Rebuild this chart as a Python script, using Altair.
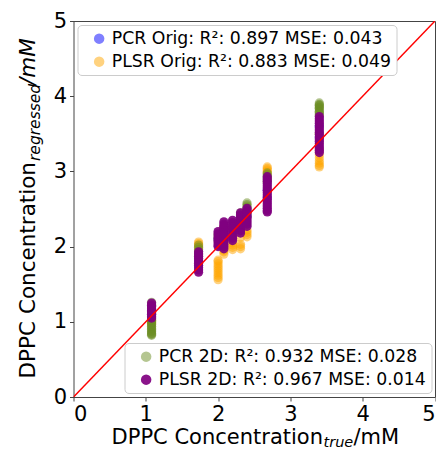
import altair as alt
import pandas as pd

# true concentrations (x) of the stacked columns
CONC = [1.08, 1.73, 2.0, 2.08, 2.2, 2.31, 2.4, 2.68, 3.4]

# regressed values per column, one list per series
PCR_ORIG = [[1.15, 1.10], [1.80, 1.75], [2.10], [2.15], [2.25], [2.30], [2.40],
            [2.75, 2.65], [3.60, 3.45]]
PLSR_ORIG = [[1.02, 1.00, 0.98],
             [2.06, 2.04, 2.02, 2.00, 1.97],
             [1.82, 1.80, 1.77, 1.74, 1.71, 1.68, 1.65, 1.62, 1.59, 1.56],
             [2.26, 2.24, 1.95, 1.93, 1.90],
             [2.05, 2.02, 1.99, 1.96],
             [2.12, 2.03, 2.00, 1.97],
             [2.22, 2.19, 2.16, 2.13],
             [3.06, 3.04, 3.02, 3.00, 2.98],
             [3.50, 3.30, 3.26, 3.22, 3.18, 3.14, 3.11, 3.08, 3.06]]
PCR_2D = [[1.26, 1.23, 1.20, 1.17, 1.14, 1.11, 1.08, 1.05, 1.02, 0.99, 0.96,
           0.93, 0.90, 0.87, 0.84, 0.82, 1.00, 0.97, 0.94, 0.91, 0.88, 0.85,
           0.83, 1.03],
          [2.02, 1.99, 1.96, 1.93, 1.90, 1.87, 1.84],
          [2.16, 2.12, 2.08],
          [2.26, 2.22, 2.18],
          [2.30, 2.26, 2.22],
          [2.45, 2.42, 2.38, 2.34],
          [2.58, 2.56, 2.54, 2.52, 2.50, 2.47, 2.44, 2.40],
          [2.98, 2.96, 2.94, 2.92, 2.89, 2.86],
          [3.91, 3.89, 3.87, 3.85, 3.83, 3.80, 3.78, 3.76, 3.74, 3.88, 3.84,
           3.79, 3.50]]
PLSR_2D = [[1.25, 1.22, 1.20, 1.17, 1.15, 1.12, 1.10, 1.07, 1.05],
           [1.93, 1.90, 1.87, 1.84, 1.81, 1.78, 1.75, 1.72, 1.69, 1.66],
           [2.20, 2.17, 2.14, 2.11, 2.08, 2.05, 2.02, 2.00],
           [2.33, 2.30, 2.27, 2.24, 2.21, 2.18, 2.15, 2.12, 2.09, 2.06, 2.03,
            2.00, 1.97],
           [2.35, 2.32, 2.29, 2.26, 2.23, 2.20, 2.17, 2.14, 2.11, 2.08],
           [2.45, 2.42, 2.39, 2.36, 2.33, 2.30, 2.27, 2.24, 2.21, 2.18],
           [2.51, 2.48, 2.45, 2.42, 2.39, 2.36, 2.33, 2.30, 2.27],
           [2.93, 2.90, 2.87, 2.84, 2.81, 2.78, 2.75, 2.72, 2.69, 2.66, 2.63,
            2.60, 2.57, 2.54, 2.51, 2.48, 2.46],
           [3.73, 3.70, 3.67, 3.64, 3.61, 3.58, 3.55, 3.52, 3.49, 3.46, 3.43,
            3.40, 3.37, 3.34, 3.31, 3.28, 3.25]]

LABELS = ["PCR Orig: R²: 0.897 MSE: 0.043",
          "PLSR Orig: R²: 0.883 MSE: 0.049",
          "PCR 2D: R²: 0.932 MSE: 0.028",
          "PLSR 2D: R²: 0.967 MSE: 0.014"]
COLORS = ["blue", "orange", "olivedrab", "purple"]
ALPHAS = [0.5, 0.5, 0.5, 0.92]
TICKS = [0, 1, 2, 3, 4, 5]
DIAG = [0, 5]

FONT = "DejaVu Sans"


def build(series_list, labels):
    rows = []
    for vals, lab in zip(series_list, labels):
        for c, ys in zip(CONC, vals):
            for y in ys:
                rows.append({"true": c, "pred": y, "series": lab})
    return pd.DataFrame(rows)


df_orig = build([PCR_ORIG, PLSR_ORIG], LABELS[:2])
df_2d = build([PCR_2D, PLSR_2D], LABELS[2:])

xscale = alt.Scale(domain=[0, 5], nice=False)
yscale = alt.Scale(domain=[0, 5], nice=False)
xaxis = alt.Axis(values=TICKS, title=None, grid=False, domain=False,
                 labelFontSize=21, labelFont=FONT, labelColor="black",
                 tickColor="#444", tickSize=4, labelPadding=2)
yaxis = alt.Axis(values=TICKS, title=None, grid=False, domain=False,
                 labelFontSize=21, labelFont=FONT, labelColor="black",
                 tickColor="#444", tickSize=4, labelPadding=3)


def legend(orient):
    return alt.Legend(orient=orient, offset=4, padding=5, fillColor="white",
                      strokeColor="#cccccc", cornerRadius=4, labelFontSize=17.3,
                      labelFont=FONT, labelColor="black", symbolType="circle",
                      symbolSize=110, symbolStrokeWidth=0, rowPadding=5,
                      symbolOffset=8, labelOffset=4, title=None, labelLimit=0)


def points(df, labels, colors, alphas, orient):
    return alt.Chart(df).mark_circle(size=85).encode(
        x=alt.X("true:Q", scale=xscale, axis=xaxis),
        y=alt.Y("pred:Q", scale=yscale, axis=yaxis),
        color=alt.Color("series:N", scale=alt.Scale(domain=labels, range=colors),
                        legend=legend(orient), sort=labels),
        opacity=alt.Opacity("series:N", scale=alt.Scale(domain=labels, range=alphas),
                            legend=legend(orient), sort=labels),
    )


p_orig = points(df_orig, LABELS[:2], COLORS[:2], ALPHAS[:2], "top-left")
p_2d = points(df_2d, LABELS[2:], COLORS[2:], ALPHAS[2:], "bottom-right")

diag = alt.Chart(pd.DataFrame({"a": DIAG, "b": DIAG})).mark_line(
    color="red", strokeWidth=1.5, clip=True).encode(
    x=alt.X("a:Q", scale=xscale, axis=xaxis), y=alt.Y("b:Q", scale=yscale, axis=yaxis))


def txt(s, x, y, size, italic=False, align="left", angle=0):
    kw = dict(font=FONT, fontSize=size, color="black", align=align,
              baseline="alphabetic")
    if italic:
        kw["fontStyle"] = "italic"
    if angle:
        kw["angle"] = angle
    return alt.Chart(pd.DataFrame({"t": [s]})).mark_text(**kw).encode(
        x=alt.value(x), y=alt.value(y), text="t:N")


titles = [
    txt("DPPC Concentration", 249.5, 423, 21, align="right"),
    txt("true", 250, 426, 14.5, italic=True),
    txt("/mM", 280, 423, 21),
    txt("DPPC Concentration", -38.5, 141, 21.5, align="right", angle=270),
    txt("regressed", -33.5, 140, 15.5, italic=True, angle=270),
    txt("/mM", -38.5, 64, 21.5, italic=True, angle=270),
]

chart = alt.layer(p_orig, p_2d, diag, *titles).resolve_scale(
    color="independent", opacity="independent"
).properties(
    width=361.5, height=376,
    padding={"left": 65.5, "top": 13, "right": 1, "bottom": 53},
    autosize=alt.AutoSizeParams(type="none"),
).configure_view(stroke="#444", strokeWidth=1)

chart.save("out.html", embed_options={"renderer": "svg", "actions": False})
